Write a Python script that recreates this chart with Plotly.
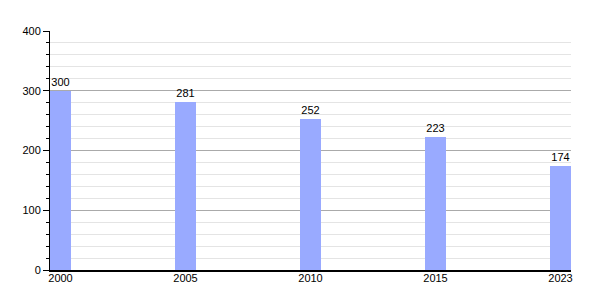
import plotly.graph_objects as go

years = ["2000", "2005", "2010", "2015", "2023"]
values = [300, 281, 252, 223, 174]

bar_w = 0.168
fig = go.Figure(go.Bar(
    x=years, y=values, width=bar_w,
    marker=dict(color="#99aaff", line=dict(width=0)),
    text=[str(v) for v in values], textposition="outside",
    textfont=dict(size=11, color="#000000", family="Liberation Sans, Arial, sans-serif"),
    cliponaxis=False,
))

fig.update_layout(
    width=600, height=300,
    margin=dict(l=50, r=29, t=31, b=30),
    paper_bgcolor="white", plot_bgcolor="white",
    showlegend=False,
    font=dict(family="Liberation Sans, Arial, sans-serif", size=11, color="#000000"),
    bargap=0,
)
fig.update_xaxes(
    type="category", range=[-bar_w / 2, len(years) - 1 + bar_w / 2],
    showline=True, linecolor="#000000", linewidth=1.5,
    ticks="", showgrid=False, tickfont=dict(size=11),
    ticklabelstandoff=-3,
)
fig.update_yaxes(
    range=[0, 400], dtick=100, tick0=0,
    showline=True, linecolor="#000000", linewidth=1,
    ticks="outside", ticklen=6, tickcolor="#000000",
    showgrid=True, gridcolor="#aaaaaa", gridwidth=1,
    zeroline=False, tickfont=dict(size=11),
    minor=dict(dtick=20, tick0=0, showgrid=True, gridcolor="#e4e4e4", gridwidth=1,
               ticks="outside", ticklen=3, tickcolor="#000000"),
)

fig.write_html("out.html")
